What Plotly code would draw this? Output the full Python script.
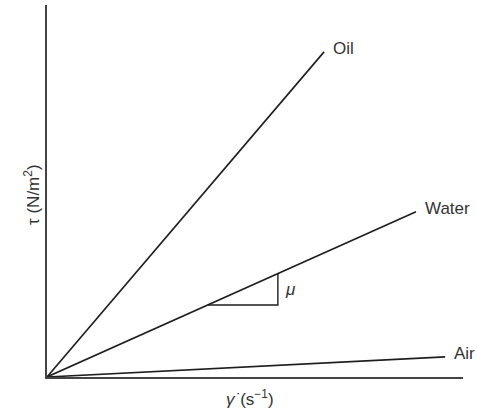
import plotly.graph_objects as go

# Newtonian fluids: shear stress grows linearly with shear rate, slope = viscosity
fluids = ["Oil", "Water", "Air"]
shear_rate_end = [6.66, 8.87, 9.57]
shear_stress_end = [8.74, 4.44, 0.54]

# slope triangle drawn on the water line
tri_x = [3.87, 5.55]

W, H = 477, 410
ML, MR, MT, MB = 47, 14, 5, 33
PW, PH = W - ML - MR, H - MT - MB

fig = go.Figure()

line_col = "#1e1e1e"
text_col = "#333333"
font_fam = "Liberation Sans, Arial, sans-serif"

for name, xe, ye in zip(fluids, shear_rate_end, shear_stress_end):
    fig.add_trace(go.Scatter(x=[0, xe], y=[0, ye], mode="lines",
                             line=dict(color=line_col, width=1.6),
                             showlegend=False, hoverinfo="skip"))
    fig.add_annotation(x=xe, y=ye, xref="x", yref="y", text=name,
                       showarrow=False, xanchor="left", yanchor="middle",
                       xshift=7, yshift=3,
                       font=dict(family=font_fam, size=17, color=text_col))

# viscosity triangle under the water line
w_idx = fluids.index("Water")
slope = shear_stress_end[w_idx] / shear_rate_end[w_idx]
x0, x1 = tri_x
y0, y1 = slope * x0, slope * x1
fig.add_trace(go.Scatter(x=[x0, x1, x1], y=[y0, y0, y1], mode="lines",
                         line=dict(color=line_col, width=1.4),
                         showlegend=False, hoverinfo="skip"))
fig.add_annotation(x=x1, y=(y0 + y1) / 2, xref="x", yref="y",
                   text="<i>μ</i>", showarrow=False, xanchor="left",
                   yanchor="middle", xshift=5,
                   font=dict(family=font_fam, size=17, color=text_col))

fig.update_xaxes(range=[0, 10], showline=True, linecolor="#444444", linewidth=1.6,
                 showgrid=False, zeroline=False, showticklabels=False, ticks="")
fig.update_yaxes(range=[0, 10], showline=True, linecolor="#444444", linewidth=1.6,
                 showgrid=False, zeroline=False, showticklabels=False, ticks="")

# axis titles
fig.add_annotation(x=(250 - ML) / PW, y=(H - MB - 398) / PH, xref="paper", yref="paper",
                   text="<i>γ˙</i>(s<sup>−1</sup>)", showarrow=False,
                   xanchor="center", yanchor="middle",
                   font=dict(family=font_fam, size=17, color=text_col))
fig.add_annotation(x=(32 - ML) / PW, y=(H - MB - 195) / PH, xref="paper", yref="paper",
                   text="τ (N/m<sup>2</sup>)", showarrow=False, textangle=-90,
                   xanchor="center", yanchor="middle",
                   font=dict(family=font_fam, size=17, color=text_col))

fig.update_layout(width=W, height=H, autosize=False,
                  margin=dict(l=ML, r=MR, t=MT, b=MB),
                  plot_bgcolor="white", paper_bgcolor="white")

fig.write_html("out.html")
